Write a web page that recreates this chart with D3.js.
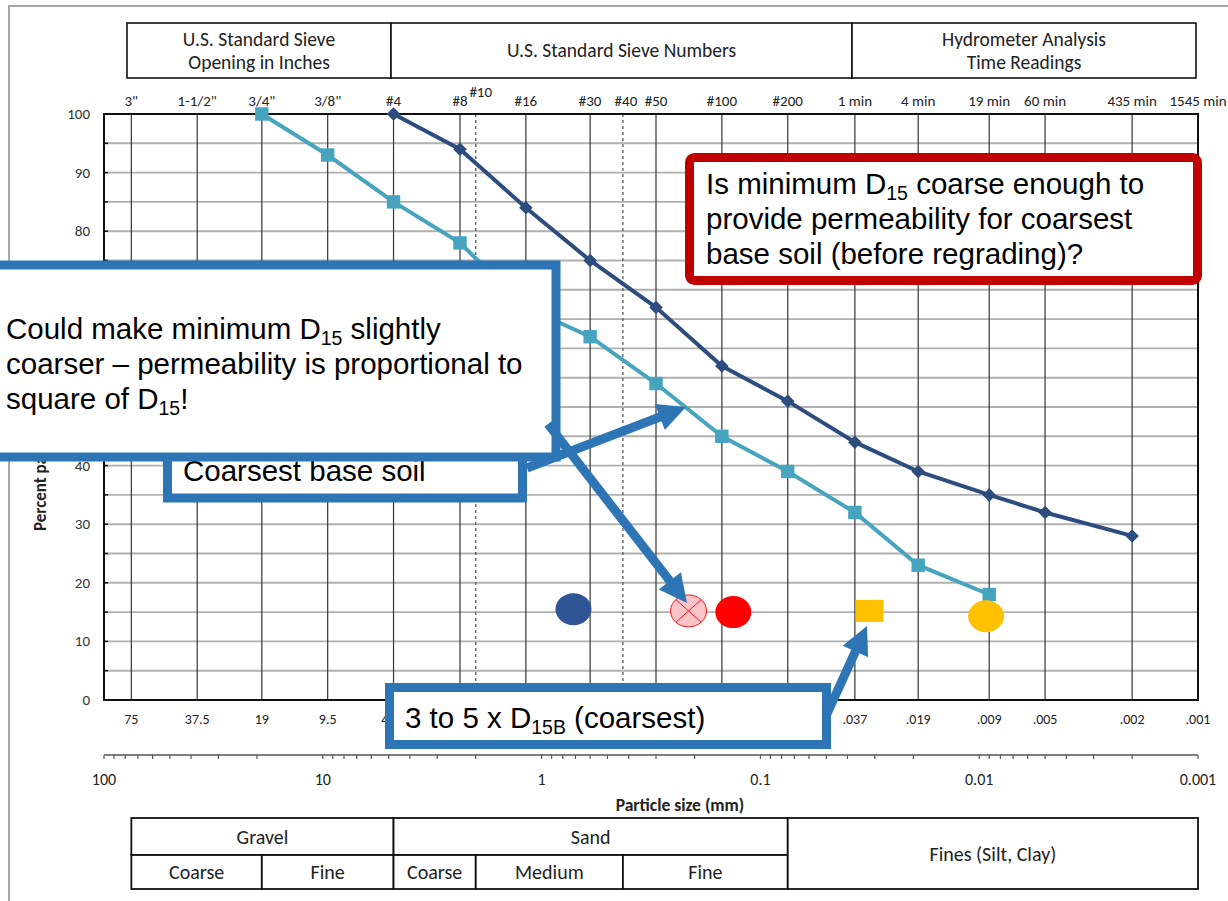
<!DOCTYPE html>
<html>
<head>
<meta charset="utf-8">
<script src="https://cdn.jsdelivr.net/npm/d3@7"></script>
<style>
  body { margin: 0; background: #fff; }
  svg { display: block; }
</style>
</head>
<body>
<svg id="chart" width="1228" height="901"></svg>
<script>
// ---- Sieve / hydrometer sizes (mm) and their labels ----
const sieveSizes  = [75, 37.5, 19, 9.5, 4.75, 2.36, 2.0, 1.18, 0.6, 0.425, 0.3, 0.15, 0.075, 0.037, 0.019, 0.009, 0.005, 0.002, 0.001];
const sieveNames  = ['3"', '1-1/2"', '3/4"', '3/8"', '#4', '#8', '#10', '#16', '#30', '#40', '#50', '#100', '#200', '1 min', '4 min', '19 min', '60 min', '435 min', '1545 min'];
// sizes printed under the plot (the sand range sits behind the D15B note)
const sizeLabels  = ['75', '37.5', '19', '9.5', '4.75', '', '', '', '', '', '', '', '', '.037', '.019', '.009', '.005', '.002', '.001'];
const dashedSizes = [2.0, 0.425];

// ---- Gradation curves: particle size (mm) vs percent passing ----
const finerSoilSizes    = [4.75, 2.36, 1.18, 0.6, 0.3, 0.15, 0.075, 0.037, 0.019, 0.009, 0.005, 0.002];
const finerSoilPassing  = [100, 94, 84, 75, 67, 57, 51, 44, 39, 35, 32, 28];
const coarsestSoilSizes   = [19, 9.5, 4.75, 2.36, 1.18, 0.6, 0.3, 0.15, 0.075, 0.037, 0.019, 0.009];
const coarsestSoilPassing = [100, 93, 85, 78, 67, 62, 54, 45, 39, 32, 23, 18];

// ---- D15 points ----
const d15Sizes   = [0.715, 0.213, 0.133, 0.0317, 0.0093];
const d15Passing = [15.5, 15.2, 15.0, 15.2, 14.3];
const d15Kinds   = ['navyDot', 'crossedDot', 'redDot', 'yellowSquare', 'yellowDot'];

// ---- Axis ticks (50-70 sit behind the comment box) ----
const yTicks      = [0, 10, 20, 30, 40, 80, 90, 100];
const yGridValues = d3.range(0, 101, 5);
const decadeTicks = [100, 10, 1, 0.1, 0.01, 0.001];

// ---- Soil classification bands ----
const bandTop    = [{ name: 'Gravel', from: 75, to: 4.75 }, { name: 'Sand', from: 4.75, to: 0.075 }];
const bandBottom = [
  { name: 'Coarse', from: 75, to: 19 }, { name: 'Fine', from: 19, to: 4.75 },
  { name: 'Coarse', from: 4.75, to: 2.0 }, { name: 'Medium', from: 2.0, to: 0.425 },
  { name: 'Fine', from: 0.425, to: 0.075 }
];
const finesBand = { name: 'Fines (Silt, Clay)', from: 0.075, to: 0.001 };

const headerBoxes = [
  { lines: ['U.S. Standard Sieve', 'Opening in Inches'], x0: 127, x1: 391 },
  { lines: ['U.S. Standard Sieve Numbers'], x0: 391, x1: 852 },
  { lines: ['Hydrometer Analysis', 'Time Readings'], x0: 852, x1: 1196 }
];

const LABEL_FONT = "Carlito, Calibri, Lato, 'Open Sans', sans-serif";
const NOTE_FONT  = "'Liberation Sans', Arial, sans-serif";
const NOTE_BLUE = '#2E75B6';
const NOTE_RED  = '#C00000';

const svg = d3.select('#chart');

const x = d3.scaleLog().domain([100, 0.001]).range([104, 1198]);
const y = d3.scaleLinear().domain([0, 100]).range([700, 114]);

// page frame
svg.append('rect').attr('x', 9).attr('y', 6).attr('width', 1240).attr('height', 920)
  .attr('fill', 'none').attr('stroke', '#a6a6a6').attr('stroke-width', 2);

// ---- header boxes ----
const hdr = svg.append('g').attr('font-family', LABEL_FONT).attr('font-size', 19.5).attr('fill', '#222');
headerBoxes.forEach(b => {
  hdr.append('rect').attr('x', b.x0).attr('y', 23).attr('width', b.x1 - b.x0).attr('height', 55)
    .attr('fill', '#fff').attr('stroke', '#111').attr('stroke-width', 1.6);
  const cx = (b.x0 + b.x1) / 2;
  if (b.lines.length === 1) {
    hdr.append('text').attr('x', cx).attr('y', 57).attr('text-anchor', 'middle').text(b.lines[0]);
  } else {
    hdr.append('text').attr('x', cx).attr('y', 46).attr('text-anchor', 'middle').text(b.lines[0]);
    hdr.append('text').attr('x', cx).attr('y', 69).attr('text-anchor', 'middle').text(b.lines[1]);
  }
});

// ---- grid ----
const grid = svg.append('g');
grid.selectAll('line.h').data(yGridValues).join('line')
  .attr('x1', x(100)).attr('x2', x(0.001))
  .attr('y1', d => y(d)).attr('y2', d => y(d))
  .attr('stroke', '#b0b0b0').attr('stroke-width', 1.9);
grid.selectAll('line.v').data(sieveSizes).join('line')
  .attr('x1', d => x(d)).attr('x2', d => x(d))
  .attr('y1', y(100)).attr('y2', y(0))
  .attr('stroke', d => dashedSizes.includes(d) ? '#555' : '#3c3c3c')
  .attr('stroke-width', 1.25)
  .attr('stroke-dasharray', d => dashedSizes.includes(d) ? '3,3' : null);

// plot frame
svg.append('rect').attr('x', x(100)).attr('y', y(100))
  .attr('width', x(0.001) - x(100)).attr('height', y(0) - y(100))
  .attr('fill', 'none').attr('stroke', '#111').attr('stroke-width', 2);
// small ticks on the left axis
svg.append('g').selectAll('line').data(yGridValues).join('line')
  .attr('x1', x(100)).attr('x2', x(100) + 4)
  .attr('y1', d => y(d)).attr('y2', d => y(d))
  .attr('stroke', '#111').attr('stroke-width', 1.5);

// y tick labels
svg.append('g').attr('font-family', LABEL_FONT).attr('font-size', 15).attr('fill', '#333')
  .selectAll('text').data(yTicks).join('text')
  .attr('x', 90).attr('y', d => y(d) + 5).attr('text-anchor', 'end').text(d => d);

// y axis title
svg.append('text')
  .attr('transform', `translate(46,531) rotate(-90)`)
  .attr('font-family', LABEL_FONT).attr('font-size', 17).attr('font-weight', 'bold').attr('fill', '#222')
  .text('Percent passing');

// sieve labels above the plot
svg.append('g').attr('font-family', LABEL_FONT).attr('font-size', 15).attr('fill', '#222')
  .selectAll('text').data(sieveSizes).join('text')
  .attr('x', (d, i) => x(d) + (sieveNames[i] === '#10' ? 5 : sieveNames[i] === '#40' ? 3 : 0))
  .attr('y', (d, i) => sieveNames[i] === '#10' ? 97 : 106)
  .attr('text-anchor', 'middle')
  .text((d, i) => sieveNames[i]);

// size labels below the plot
svg.append('g').attr('font-family', LABEL_FONT).attr('font-size', 14).attr('fill', '#222')
  .selectAll('text').data(sieveSizes.filter((d, i) => sizeLabels[i] !== '')).join('text')
  .attr('x', d => x(d)).attr('y', 724)
  .attr('text-anchor', 'middle')
  .text(d => sizeLabels[sieveSizes.indexOf(d)]);

// ---- logarithmic particle-size axis ----
const axisY = 755;
const minor = [];
for (let e = -3; e < 2; e++) for (let k = 1; k < 10; k++) minor.push(k * Math.pow(10, e));
minor.push(100);
const ax = svg.append('g');
ax.append('line').attr('x1', x(100)).attr('x2', x(0.001)).attr('y1', axisY).attr('y2', axisY)
  .attr('stroke', '#555').attr('stroke-width', 1.4);
ax.selectAll('line.t').data(minor).join('line')
  .attr('x1', d => x(d)).attr('x2', d => x(d))
  .attr('y1', axisY).attr('y2', axisY + 4)
  .attr('stroke', '#555').attr('stroke-width', 1.2);
ax.selectAll('text').data(decadeTicks).join('text')
  .attr('x', d => x(d)).attr('y', 785).attr('text-anchor', 'middle')
  .attr('font-family', LABEL_FONT).attr('font-size', 16).attr('fill', '#222')
  .text(d => d);
svg.append('text').attr('x', 680).attr('y', 811).attr('text-anchor', 'middle')
  .attr('font-family', LABEL_FONT).attr('font-size', 17.5).attr('font-weight', 'bold').attr('fill', '#222')
  .text('Particle size (mm)');

// ---- soil classification table ----
const tbl = svg.append('g').attr('font-family', LABEL_FONT).attr('font-size', 20).attr('fill', '#222');
const rowTop = 818, rowMid = 855, rowBot = 889;
function cell(x0, x1, y0, y1, label) {
  tbl.append('rect').attr('x', x0).attr('y', y0).attr('width', x1 - x0).attr('height', y1 - y0)
    .attr('fill', '#fff').attr('stroke', '#111').attr('stroke-width', 1.8);
  tbl.append('text').attr('x', (x0 + x1) / 2).attr('y', (y0 + y1) / 2 + 7)
    .attr('text-anchor', 'middle').text(label);
}
bandTop.forEach(b => cell(x(b.from), x(b.to), rowTop, rowMid, b.name));
bandBottom.forEach(b => cell(x(b.from), x(b.to), rowMid, rowBot, b.name));
cell(x(finesBand.from), x(finesBand.to), rowTop, rowBot, finesBand.name);

// ---- gradation curves ----
const line = d3.line().x(d => x(d[0])).y(d => y(d[1]));
const finerPts = finerSoilSizes.map((s, i) => [s, finerSoilPassing[i]]);
const coarsePts = coarsestSoilSizes.map((s, i) => [s, coarsestSoilPassing[i]]);

svg.append('path').datum(coarsePts).attr('d', line)
  .attr('fill', 'none').attr('stroke', '#46A4BE').attr('stroke-width', 4);
svg.append('g').selectAll('path').data(coarsePts).join('path')
  .attr('d', d3.symbol(d3.symbolSquare, 180))
  .attr('transform', d => `translate(${x(d[0])},${y(d[1])})`)
  .attr('fill', '#46A4BE');

svg.append('path').datum(finerPts).attr('d', line)
  .attr('fill', 'none').attr('stroke', '#2D4D7E').attr('stroke-width', 4);
svg.append('g').selectAll('path').data(finerPts).join('path')
  .attr('d', d3.symbol(d3.symbolSquare, 92))
  .attr('transform', d => `translate(${x(d[0])},${y(d[1])}) rotate(45)`)
  .attr('fill', '#2D4D7E');

// ---- D15 points ----
const d15 = svg.append('g');
d15Sizes.forEach((s, i) => {
  const cx = x(s), cy = y(d15Passing[i]);
  const kind = d15Kinds[i];
  if (kind === 'yellowSquare') {
    d15.append('rect').attr('x', cx - 14).attr('y', cy - 11).attr('width', 28).attr('height', 22)
      .attr('fill', '#FFC000');
  } else if (kind === 'crossedDot') {
    d15.append('ellipse').attr('cx', cx).attr('cy', cy).attr('rx', 18).attr('ry', 16)
      .attr('fill', '#F9C3C8').attr('stroke', '#F01818').attr('stroke-width', 1);
    const a = 0.707;
    d15.append('line').attr('x1', cx - 18 * a).attr('y1', cy - 16 * a).attr('x2', cx + 18 * a).attr('y2', cy + 16 * a)
      .attr('stroke', '#F01818').attr('stroke-width', 1);
    d15.append('line').attr('x1', cx - 18 * a).attr('y1', cy + 16 * a).attr('x2', cx + 18 * a).attr('y2', cy - 16 * a)
      .attr('stroke', '#F01818').attr('stroke-width', 1);
  } else {
    const fill = kind === 'navyDot' ? '#2F5597' : kind === 'redDot' ? '#FF0000' : '#FFC000';
    d15.append('ellipse').attr('cx', cx).attr('cy', cy).attr('rx', 18).attr('ry', 16).attr('fill', fill);
  }
});

// ---- callouts ----
function richText(g, x0, y0, lines, size, lineH) {
  const t = g.append('text').attr('font-family', NOTE_FONT).attr('font-size', size).attr('fill', '#000');
  lines.forEach((segs, i) => {
    segs.forEach((s, j) => {
      const ts = t.append('tspan').text(s.t);
      if (j === 0) ts.attr('x', x0).attr('y', y0 + i * lineH);
      if (s.sub) ts.attr('font-size', size * 0.66).attr('dy', size * 0.22);
      else if (j > 0 && segs[j - 1].sub) ts.attr('dy', -size * 0.22);
    });
  });
}
function box(g, x0, y0, w, h, color, rx) {
  g.append('rect').attr('x', x0).attr('y', y0).attr('width', w).attr('height', h)
    .attr('rx', rx || 0).attr('fill', '#fff').attr('stroke', color).attr('stroke-width', 9);
}
function arrow(g, x0, y0, x1, y1) {
  const dx = x1 - x0, dy = y1 - y0, len = Math.hypot(dx, dy);
  const ux = dx / len, uy = dy / len, hl = 28, hw = 14;
  const bx = x1 - ux * hl, by = y1 - uy * hl;
  g.append('line').attr('x1', x0).attr('y1', y0).attr('x2', bx + ux * 2).attr('y2', by + uy * 2)
    .attr('stroke', NOTE_BLUE).attr('stroke-width', 9);
  g.append('path')
    .attr('d', `M${x1},${y1}L${bx - uy * hw},${by + ux * hw}L${bx + uy * hw},${by - ux * hw}Z`)
    .attr('fill', NOTE_BLUE);
}

const notes = svg.append('g');
const NOTE_SIZE = 29.5;

// red question box
box(notes, 689.5, 157.5, 508, 123, NOTE_RED, 5);
richText(notes, 706, 194, [
  [{ t: 'Is minimum D' }, { t: '15', sub: true }, { t: ' coarse enough to' }],
  [{ t: 'provide permeability for coarsest' }],
  [{ t: 'base soil (before regrading)?' }]
], NOTE_SIZE, 35);

// coarsest base soil label
box(notes, 167.5, 420, 355, 78, NOTE_BLUE);
richText(notes, 183, 481, [[{ t: 'Coarsest base soil' }]], NOTE_SIZE, 35);

// main comment box
box(notes, -20, 265, 576, 192, NOTE_BLUE);
richText(notes, 6, 339, [
  [{ t: 'Could make minimum D' }, { t: '15', sub: true }, { t: ' slightly' }],
  [{ t: 'coarser \u2013 permeability is proportional to' }],
  [{ t: 'square of D' }, { t: '15', sub: true }, { t: '!' }]
], NOTE_SIZE, 35);

// D15B range box
box(notes, 389.5, 687.5, 437, 57, NOTE_BLUE);
richText(notes, 405, 728, [
  [{ t: '3 to 5 x D' }, { t: '15B', sub: true }, { t: ' (coarsest)' }]
], NOTE_SIZE, 35);

// arrows
arrow(notes, 527, 468, 686, 407);
arrow(notes, 548, 424, 687, 603);
arrow(notes, 826, 716, 867, 626);
</script>
</body>
</html>
